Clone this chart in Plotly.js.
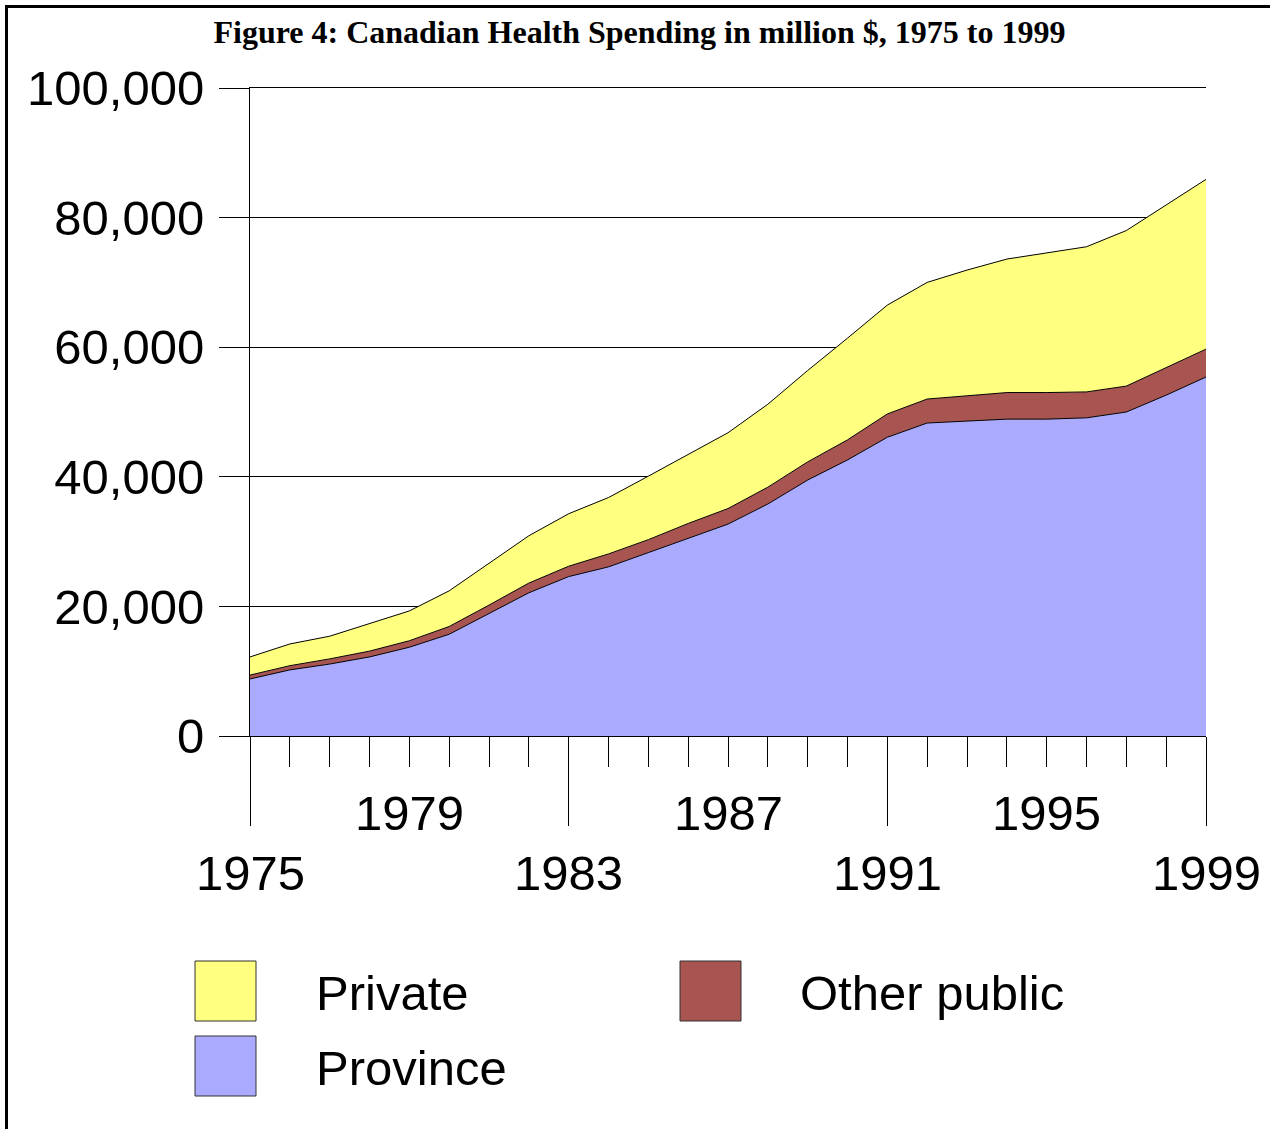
<!DOCTYPE html>
<html>
<head>
<meta charset="utf-8">
<script src="https://cdn.plot.ly/plotly-3.0.1.min.js"></script>
<style>
  html, body { margin: 0; padding: 0; background: #fff; }
  #chart { position: absolute; left: 0; top: 0; width: 1270px; height: 1129px; }
  #frame { position: absolute; left: 5px; top: 5px; width: 1270px; height: 1129px;
           border-top: 3px solid #000; border-left: 3px solid #000; pointer-events: none; }
</style>
</head>
<body>
<div id="chart"></div>
<div id="frame"></div>
<script>
// ---- data (million $) ----
const years = [1975,1976,1977,1978,1979,1980,1981,1982,1983,1984,1985,1986,1987,
               1988,1989,1990,1991,1992,1993,1994,1995,1996,1997,1998,1999];
const province = [8800,10200,11100,12200,13700,15700,18900,22100,24600,26100,28300,30500,32700,
                  35800,39500,42600,46100,48300,48600,48900,48900,49100,50000,52600,55400];
const otherPublic = [600,650,800,900,1000,1200,1300,1500,1600,2000,2000,2300,2400,
                     2600,2800,3100,3600,3700,3900,4100,4100,4000,4000,4300,4300];
const privateSp = [2800,3350,3500,4200,4600,5500,6500,7300,8100,8700,9800,10700,11700,
                   12800,14100,15700,16800,18000,19400,20600,21600,22400,24000,25000,26200];
const seriesNames = ["Province", "Other public", "Private"];
const xLabelsUpper = [1979, 1987, 1995];
const xLabelsLower = [1975, 1983, 1991, 1999];
const majorTicks = [1975, 1983, 1991, 1999];
const yTicks = [0, 20000, 40000, 60000, 80000, 100000];
const titleText = "Figure 4: Canadian Health Spending in million $, 1975 to 1999";

// ---- styles ----
const colors = { "Province": "#AAAAFF", "Other public": "#A85552", "Private": "#FFFF80" };
const W = 1270, H = 1129;
const L = 250, R = 1206, T = 88, B = 736;
const px = x => (x - L) / (R - L);       // pixel -> paper x
const py = y => (B - y) / (B - T);       // pixel -> paper y
const axisFont = { family: "Liberation Sans, Arial, sans-serif", size: 49, color: "#000" };

const dataSets = [province, otherPublic, privateSp];
const traces = dataSets.map((vals, i) => ({
  type: "scatter", mode: "lines", x: years, y: vals, name: seriesNames[i],
  stackgroup: "one", line: { color: "#000", width: 1 },
  fillcolor: colors[seriesNames[i]], hoverinfo: "skip"
}));

const annotations = [];
xLabelsUpper.forEach(v => annotations.push({
  x: v, xref: "x", y: py(813), yref: "paper", text: String(v), showarrow: false,
  xanchor: "center", yanchor: "middle", font: axisFont
}));
xLabelsLower.forEach(v => annotations.push({
  x: v, xref: "x", y: py(873), yref: "paper", text: String(v), showarrow: false,
  xanchor: "center", yanchor: "middle", font: axisFont
}));

// legend (drawn manually)
const legendItems = [
  { name: "Private", x0: 195, y0: 961, tx: 314 },
  { name: "Province", x0: 195, y0: 1036, tx: 314 },
  { name: "Other public", x0: 680, y0: 961, tx: 798 }
];
const shapes = [];
legendItems.forEach(it => {
  shapes.push({ type: "rect", xref: "paper", yref: "paper",
    x0: px(it.x0), x1: px(it.x0 + 61), y0: py(it.y0), y1: py(it.y0 + 60),
    fillcolor: colors[it.name], line: { color: "#333", width: 1 } });
  annotations.push({ x: px(it.tx), xref: "paper", y: py(it.y0 + 32), yref: "paper",
    text: it.name, showarrow: false, xanchor: "left", yanchor: "middle", font: axisFont });
});

const layout = {
  width: W, height: H,
  margin: { l: L, r: W - R, t: T, b: H - B, pad: 0 },
  paper_bgcolor: "#fff", plot_bgcolor: "#fff",
  showlegend: false,
  title: { text: "<b>" + titleText + "</b>", xref: "container", x: 0.5035, xanchor: "center",
           yref: "container", y: 1 - 32 / H, yanchor: "middle",
           font: { family: "Liberation Serif, Times New Roman, serif", size: 32, color: "#000" } },
  xaxis: {
    range: [1975, 1999], tickvals: majorTicks, showticklabels: false,
    ticks: "outside", ticklen: 89, tickcolor: "#000", tickwidth: 1,
    minor: { dtick: 1, tick0: 1975, ticks: "outside", ticklen: 30, tickcolor: "#000", tickwidth: 1, showgrid: false },
    showgrid: false, zeroline: false, showline: true, mirror: true, linecolor: "#000", linewidth: 1
  },
  yaxis: {
    range: [0, 100000], tickvals: yTicks, tickformat: ",d",
    ticks: "outside", ticklen: 30, tickcolor: "#000", tickwidth: 1,
    ticklabelstandoff: 5,
    showgrid: true, gridcolor: "#000", gridwidth: 1, zeroline: false,
    showline: true, linecolor: "#000", linewidth: 1, tickfont: axisFont
  },
  annotations: annotations, shapes: shapes
};

Plotly.newPlot("chart", traces, layout, { staticPlot: true, displayModeBar: false });
</script>
</body>
</html>
